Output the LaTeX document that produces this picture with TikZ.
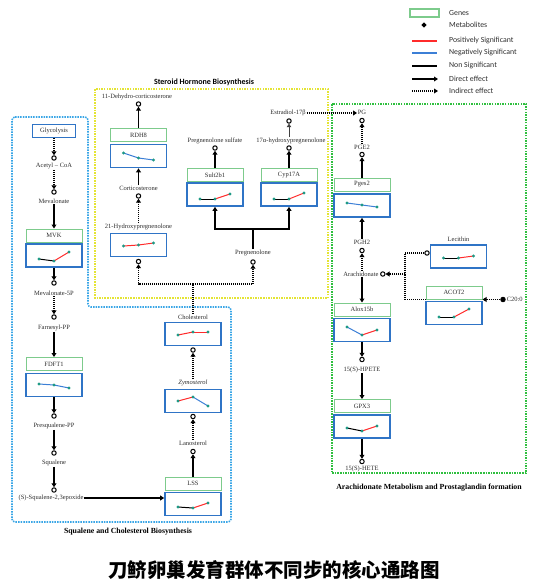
\documentclass[tikz,border=0pt]{standalone}
\usepackage{fontspec}
\setmainfont{Liberation Serif}
\newfontfamily\legfamily{Carlito}
\newfontfamily\cjkfamily{Noto Sans CJK SC}
\usetikzlibrary{arrows.meta}
\definecolor{gengreen}{HTML}{7DCB8C}
\definecolor{boxblue}{HTML}{2F74C6}
\definecolor{dotteal}{HTML}{1F9A86}
\definecolor{posred}{HTML}{FF2B2B}
\definecolor{negblue}{HTML}{3C7FD6}
\definecolor{regblue}{HTML}{3AA6E6}
\definecolor{regyellow}{HTML}{E4E434}
\definecolor{reggreen}{HTML}{2FBF3F}
\definecolor{txtgray}{HTML}{2E2E2E}
\newcommand{\mtf}{\fontsize{6.5}{7.5}\selectfont}
\newcommand{\legf}{\legfamily\fontsize{7.8}{9}\selectfont}
\newcommand{\chartline}[6]{%
  \begin{scope}[shift={(#1.center)}]
    \draw[#5, line width=1pt] (-15,#2) -- (0,#3);
    \draw[#6, line width=1pt] (0,#3) -- (15,#4);
    \fill[dotteal] (-15,#2) circle (1.6pt) (0,#3) circle (1.6pt) (15,#4) circle (1.6pt);
  \end{scope}}
\begin{document}
\begin{tikzpicture}[x=1pt,y=-1pt,
  mt/.style={font=\mtf, text=txtgray, inner sep=0.6pt},
  met/.style={circle, draw=black, line width=1pt, fill=white, minimum size=4.4pt, inner sep=0pt},
  genebox/.style={draw=gengreen, line width=1pt, minimum width=56pt, minimum height=13pt, inner sep=0pt, font=\mtf, text=txtgray},
  chartbox/.style={draw=boxblue, line width=1.6pt, minimum width=56pt, minimum height=23pt, inner sep=0pt},
  direct/.style={line width=1.7pt, -{Triangle[length=4pt,width=4.8pt]}},
  indirect/.style={line width=1.1pt, dash pattern=on 1pt off 1pt, -{Triangle[length=4pt,width=4.8pt]}},
  dotline/.style={line width=1.1pt, dash pattern=on 1pt off 1pt},
  region/.style={line width=1.6pt, dash pattern=on 1.5pt off 1.1pt},
  legtxt/.style={font=\legf, text=txtgray, anchor=west, inner sep=0pt},
  serif title/.style={font=\fontsize{7.8}{9}\selectfont\bfseries, text=black, inner sep=0pt}]

\useasboundingbox (0,0) rectangle (560,587);

% ---------- regions ----------
\draw[region, draw=regblue, rounded corners=3pt] (12,117) -- (88,117) -- (88,307) -- (231,307) -- (231,522) -- (12,522) -- cycle;
\draw[region, draw=regyellow] (95,89) rectangle (328,298);
\draw[region, draw=reggreen] (332,104) rectangle (526,473);

\node[font=\legfamily\fontsize{8}{9}\selectfont\bfseries, inner sep=0pt] (t1) at (204,82) {Steroid Hormone Biosynthesis};
\node[serif title] (t2) at (128,531.5) {Squalene and Cholesterol Biosynthesis};
\node[serif title] (t3) at (429,488) {Arachidonate Metabolism and Prostaglandin formation};

% ---------- legend ----------
\node[draw=gengreen, line width=1.3pt, minimum width=29pt, minimum height=8pt, inner sep=0pt] (lgene) at (424.5,13) {};
\node[legtxt] (lgenet) at (449,12.5) {Genes};
\node[met, fill=black, minimum size=3.6pt] (lmet) at (424,25) {};
\node[legtxt] (lmett) at (449,24.5) {Metabolites};
\coordinate (lr1) at (412,41); \coordinate (lr2) at (437,41);
\draw[posred, line width=1.3pt] (lr1) -- (lr2);
\node[legtxt] (lrt) at (449,40.5) {Positively Significant};
\coordinate (lb1) at (412,53); \coordinate (lb2) at (437,53);
\draw[negblue, line width=1.3pt] (lb1) -- (lb2);
\node[legtxt] (lbt) at (449,52.5) {Negatively Significant};
\coordinate (lk1) at (412,66); \coordinate (lk2) at (437,66);
\draw[black, line width=1.3pt] (lk1) -- (lk2);
\node[legtxt] (lkt) at (449,65.5) {Non Significant};
\coordinate (ld1) at (412,79); \coordinate (ld2) at (438,79);
\draw[direct] (ld1) -- (ld2);
\node[legtxt] (ldt) at (449,78.5) {Direct effect};
\coordinate (li1) at (412,91); \coordinate (li2) at (438,91);
\draw[indirect] (li1) -- (li2);
\node[legtxt] (lit) at (449,90.5) {Indirect effect};

% ---------- left column (squalene) ----------
\node[chartbox, minimum width=43pt, minimum height=13pt, font=\mtf, text=txtgray] (glyc) at (54,131) {Glycolysis};
\node[met] (macoa) at (54,158) {};
\node[mt] (acoa) at (54,166) {Acetyl – CoA};
\node[met] (mmev) at (54,192) {};
\node[mt] (mev) at (54,201) {Mevalonate};
\node[genebox] (mvkg) at (54,235.5) {MVK};
\node[chartbox] (mvkb) at (54,255.5) {};
\node[met] (mmev5) at (54,283) {};
\node[mt] (mev5) at (54,293) {Mevalonate-5P};
\node[met] (mfar) at (54,317) {};
\node[mt] (far) at (54,328) {Farnesyl-PP};
\node[genebox] (fdftg) at (54,364) {FDFT1};
\node[chartbox] (fdftb) at (54,385) {};
\node[met] (mpsq) at (54,416) {};
\node[mt] (psq) at (54,426) {Presqualene-PP};
\node[met] (msq) at (54,453) {};
\node[mt] (sq) at (54,463) {Squalene};
\node[met] (msqe) at (54,490) {};
\node[mt] (sqe) at (51,498) {(S)-Squalene-2,3epoxide};

\draw[indirect] (glyc) -- (macoa);
\draw[indirect] (acoa) -- (mmev);
\draw[direct] (mev) -- (mvkg);
\draw[direct] (mvkb) -- (mmev5);
\draw[indirect] (mev5) -- (mfar);
\draw[direct] (far) -- (fdftg);
\draw[direct] (fdftb) -- (mpsq);
\draw[direct] (psq) -- (msq);
\draw[direct] (sq) -- (msqe);

% ---------- LSS column ----------
\node[genebox] (lssg) at (193,483.5) {LSS};
\node[chartbox] (lssb) at (193,504) {};
\node[mt] (lan) at (193,443) {Lanosterol};
\node[met] (mlan) at (193,451.5) {};
\node[chartbox] (zymb) at (193,401) {};
\node[mt, font=\mtf\itshape] (zym) at (193,383) {Zymosterol};
\node[met] (mzym) at (193,416.5) {};
\node[chartbox] (cholb) at (193,334) {};
\node[mt] (chol) at (193,317) {Cholesterol};
\node[met] (mchol) at (193,350) {};

\draw[direct] (sqe.east) -- (sqe.east -| lssb.west);
\draw[direct] (lssg) -- (mlan);
\draw[indirect] (lan) -- (mzym);
\draw[indirect] (zym) -- (mchol);

% ---------- steroid hormone ----------
\node[mt] (h21) at (138.5,227) {21-Hydroxypregnenolone};
\node[chartbox] (h21b) at (138.5,245) {};
\node[met] (m21) at (138.5,261.5) {};
\node[mt] (cort) at (138.5,188) {Corticosterone};
\node[met] (mcort) at (138.5,196) {};
\node[genebox] (rdhg) at (138.5,135) {RDH8};
\node[chartbox] (rdhb) at (138.5,156) {};
\node[met] (mdhc) at (138.5,104) {};
\node[mt] (dhc) at (137,96.5) {11-Dehydro-corticosterone};

\node[mt] (preg) at (253,253) {Pregnenolone};
\node[met] (mpreg) at (253,262) {};
\coordinate (jp) at (253,229);
\coordinate (jc) at (193,284);

\node[genebox] (sultg) at (215,175) {Sult2b1};
\node[chartbox] (sultb) at (215,194.5) {};
\node[met] (msulf) at (215,148) {};
\node[mt] (sulf) at (215,141) {Pregnenolone sulfate};

\node[genebox] (cypg) at (289,175) {Cyp17A};
\node[chartbox] (cypb) at (289,194.5) {};
\node[met] (mohp) at (289,148) {};
\node[mt] (ohp) at (291,141) {17α-hydroxypregnenolone};
\node[met] (mest) at (289,121) {};
\node[mt] (est) at (288,113) {Estradiol-17β};

\draw[dotline] (chol) -- (jc);
\draw[indirect] (jc) -| (m21);
\draw[indirect] (jc) -| (mpreg);
\draw[indirect] (h21) -- (mcort);
\draw[direct] (cort) -- (rdhb);
\draw[direct] (rdhg) -- (mdhc);
\draw[line width=1.7pt] (preg) -- (jp);
\draw[direct] (jp) -| (sultb);
\draw[direct] (jp) -| (cypb);
\draw[direct] (sultg) -- (msulf);
\draw[direct] (cypg) -- (mohp);
\draw[line width=0.6pt, draw=darkgray, -{Triangle[length=3.5pt,width=4.5pt]}] (ohp.north -| mest) -- (mest);

% ---------- arachidonate ----------
\node[mt] (pg) at (362,112) {PG};
\node[met] (mpg) at (362,120.5) {};
\node[mt] (pge) at (362,147) {PGE2};
\node[met] (mpge) at (362,154.5) {};
\node[genebox] (pgesg) at (362,184.5) {Pges2};
\node[chartbox] (pgesb) at (362,205.5) {};
\node[mt] (pgh) at (362,242) {PGH2};
\node[met] (mpgh) at (362,250.5) {};
\node[mt] (arach) at (361,274) {Arachidonate};
\node[met] (march) at ([xshift=3.5pt]arach.east) {};
\node[genebox] (aloxg) at (362,309.5) {Alox15b};
\node[chartbox] (aloxb) at (362,330) {};
\node[met] (mhpete) at (362,359.5) {};
\node[mt] (hpete) at (362,369.5) {15(S)-HPETE};
\node[genebox] (gpxg) at (362,406) {GPX3};
\node[chartbox] (gpxb) at (362,426.5) {};
\node[met] (mhete) at (362,461.5) {};
\node[mt] (hete) at (362,468.5) {15(S)-HETE};

\node[chartbox] (lecb) at (458.5,256.5) {};
\node[mt] (lec) at (458.5,239) {Lecithin};
\node[met] (mlec) at (427,253) {};
\node[genebox] (acotg) at (454,292.5) {ACOT2};
\node[chartbox] (acotb) at (454,313) {};
\node[met, fill=black] (mc20) at (503,299.5) {};
\node[mt, anchor=west] (c20) at (506,299.5) {C20:0};
\coordinate (jl) at (405,274);

\draw[indirect] (est.east) -- (est.east -| pg.west);
\draw[indirect] (pge) -- (mpg);
\draw[direct] (pgesg) -- (mpge);
\draw[direct] (pgh) -- (pgesb);
\draw[indirect] (arach.north -| mpgh) -- (mpgh);
\draw[indirect] (mlec) -| (jl) -- (march);
\draw[dotline] (acotg.south west) -| (jl);
\draw[indirect] (mc20) -- (mc20 -| acotg.east);
\draw[direct] (arach.south -| aloxg) -- (aloxg);
\draw[direct] (aloxb) -- (mhpete);
\draw[direct] (hpete) -- (gpxg);
\draw[direct] (gpxb) -- (mhete);

% ---------- charts ----------
\chartline{mvkb}{3.5}{5.5}{-3.5}{black}{posred}
\chartline{fdftb}{-1}{0}{3}{negblue}{negblue}
\chartline{lssb}{3}{4}{-1}{black}{posred}
\chartline{zymb}{0}{-4}{5}{posred}{negblue}
\chartline{cholb}{1}{-2}{-2}{posred}{posred}
\chartline{h21b}{1}{0}{-2}{posred}{posred}
\chartline{rdhb}{-3}{2}{4}{negblue}{negblue}
\chartline{sultb}{4.5}{4.5}{-0.5}{black}{posred}
\chartline{cypb}{4.5}{4.5}{-1.5}{black}{posred}
\chartline{pgesb}{-2.5}{-0.5}{1.5}{negblue}{negblue}
\chartline{lecb}{1.5}{1.5}{-0.5}{black}{posred}
\chartline{acotb}{4}{4}{-4}{black}{posred}
\chartline{aloxb}{-3}{5}{0}{negblue}{posred}
\chartline{gpxb}{1.5}{4.5}{-0.5}{black}{posred}

% ---------- caption ----------
\node[font=\cjkfamily\bfseries\fontsize{19.5}{21}\selectfont, text=black, inner sep=0pt] (cap) at (274,570) {刀鲚卵巢发育群体不同步的核心通路图};
\end{tikzpicture}
\end{document}
